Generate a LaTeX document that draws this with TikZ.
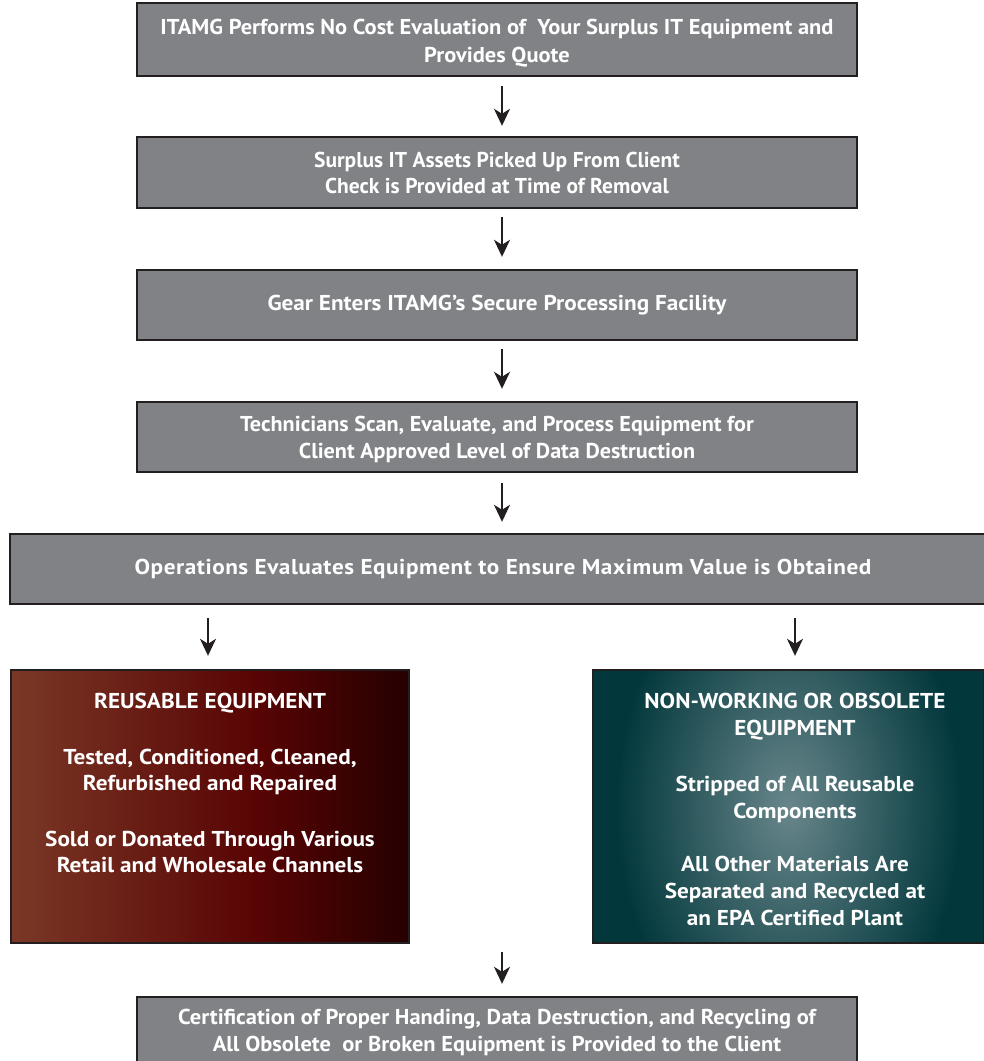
\documentclass[tikz,border=0pt]{standalone}
\usepackage{fontspec}
\setmainfont{PT Sans}
\newfontfamily\widef{PT Sans}[FakeStretch=1.08]
\newfontfamily\wideg{PT Sans}[FakeStretch=1.08,LetterSpace=2.5]
\newfontfamily\midf{PT Sans}[FakeStretch=1.03]
\newfontfamily\condf{PT Sans}
\newfontfamily\condw{PT Sans}[FakeStretch=1.045]
\usetikzlibrary{arrows.meta}
\definecolor{boxgray}{RGB}{128,130,133}
\definecolor{boxline}{RGB}{35,31,32}
\definecolor{rL}{RGB}{122,56,38}
\definecolor{rM}{RGB}{88,4,4}
\definecolor{rR}{RGB}{38,0,0}
\definecolor{tC}{RGB}{104,134,139}
\definecolor{tE}{RGB}{2,56,60}
\pgfdeclarehorizontalshading{redgrad}{100bp}{color(0bp)=(rL); color(25bp)=(rL); color(56bp)=(rM); color(75bp)=(rR); color(100bp)=(rR)}
\pgfdeclareradialshading{tealglow}{\pgfpoint{0bp}{0bp}}{color(0bp)=(tC); color(22bp)=(tE); color(50bp)=(tE)}
\tikzset{
  graybox/.style={rectangle, fill=boxgray, draw=boxline, line width=2.4pt, inner sep=0pt, text=white, align=center},
  colbox/.style={rectangle, draw=boxline, line width=2.4pt, inner sep=0pt},
  gtext/.style={text=white, align=center, inner sep=0pt},
  coltext/.style={text=white, align=center, inner sep=0pt, anchor=north, font=\widef\bfseries\fontsize{21.5}{26.5}\selectfont},
  flow/.style={draw=boxline, line width=1.9pt, -{Stealth[length=17pt,width=16pt,inset=5pt]}}
}
\begin{document}
\begin{tikzpicture}[x=1pt,y=-1pt]
\useasboundingbox (0,0) rectangle (984,1061);
\clip (0,0) rectangle (984,1061);
\node[graybox, minimum width=720pt, minimum height=73pt,
  label={[gtext, yshift=-3.5pt, font=\condw\bfseries\fontsize{21.5}{28}\selectfont]center:{ITAMG Performs No Cost Evaluation of~ Your Surplus IT Equipment and\\Provides Quote}}] (b1) at (497,39.5) {};
\node[graybox, font=\condf\bfseries\fontsize{21.5}{26}\selectfont, minimum width=720pt, minimum height=71pt] (b2) at (497,172.5)
  {Surplus IT Assets Picked Up From Client\\Check is Provided at Time of Removal};
\node[graybox, font=\widef\bfseries\fontsize{21.5}{27}\selectfont, minimum width=720pt, minimum height=70pt] (b3) at (497,305)
  {Gear Enters ITAMG’s Secure Processing Facility};
\node[graybox, minimum width=720pt, minimum height=70pt,
  label={[gtext, yshift=-2pt, font=\midf\bfseries\fontsize{21.5}{27}\selectfont]center:{Technicians Scan, Evaluate, and Process Equipment for\\Client Approved Level of Data Destruction}}] (b4) at (497,437) {};
\node[graybox, font=\wideg\bfseries\fontsize{21.5}{27}\selectfont, minimum width=986pt, minimum height=70pt] (b5) at (503,569)
  {Operations Evaluates Equipment to Ensure Maximum Value is Obtained};
\node[colbox, shading=redgrad, shade, minimum width=398pt, minimum height=273pt] (L) at (210,806.5) {};
\node[colbox, fill=tE, minimum width=391pt, minimum height=273pt,
  path picture={\shade[shading=tealglow] ([xshift=-172pt,yshift=290pt]path picture bounding box.center) rectangle ([xshift=182pt,yshift=-290pt]path picture bounding box.center);}] (R) at (788.5,806.5) {};
\node[coltext] (Lt) at (210,693)
  {REUSABLE EQUIPMENT\\[29pt]Tested, Conditioned, Cleaned,\\Refurbished and Repaired\\[29pt]Sold or Donated Through Various\\Retail and Wholesale Channels};
\node[coltext, font=\widef\bfseries\fontsize{21.5}{27}\selectfont] (Rt) at (795,693)
  {NON-WORKING OR OBSOLETE\\EQUIPMENT\\[29pt]Stripped of All Reusable\\Components\\[26pt]All Other Materials Are\\Separated and Recycled at\\an EPA Certified Plant};
\node[graybox, minimum width=720pt, minimum height=66pt,
  label={[gtext, yshift=-2pt, font=\condw\bfseries\fontsize{21.5}{27}\selectfont]center:{Certification of Proper Handing, Data Destruction, and Recycling of\\All Obsolete~ or Broken Equipment is Provided to the Client}}] (fin) at (497,1030) {};
\coordinate (join) at (502,943);
\draw[flow, shorten <=9pt, shorten >=10pt] ([xshift=5pt]b1.south) -- ([xshift=5pt]b2.north);
\draw[flow, shorten <=8pt, shorten >=12pt] ([xshift=5pt]b2.south) -- ([xshift=5pt]b3.north);
\draw[flow, shorten <=8pt, shorten >=12pt] ([xshift=5pt]b3.south) -- ([xshift=5pt]b4.north);
\draw[flow, shorten <=10pt, shorten >=11pt] ([xshift=5pt]b4.south) -- ([xshift=5pt]b4.south |- b5.north);
\draw[flow, shorten <=13pt, shorten >=13pt] ([xshift=-2pt]L.north |- b5.south) -- ([xshift=-2pt]L.north);
\draw[flow, shorten <=13pt, shorten >=13pt] ([xshift=6.5pt]R.north |- b5.south) -- ([xshift=6.5pt]R.north);
\draw[flow, shorten <=9pt, shorten >=12pt] (join) -- (join |- fin.north);
\end{tikzpicture}
\end{document}
